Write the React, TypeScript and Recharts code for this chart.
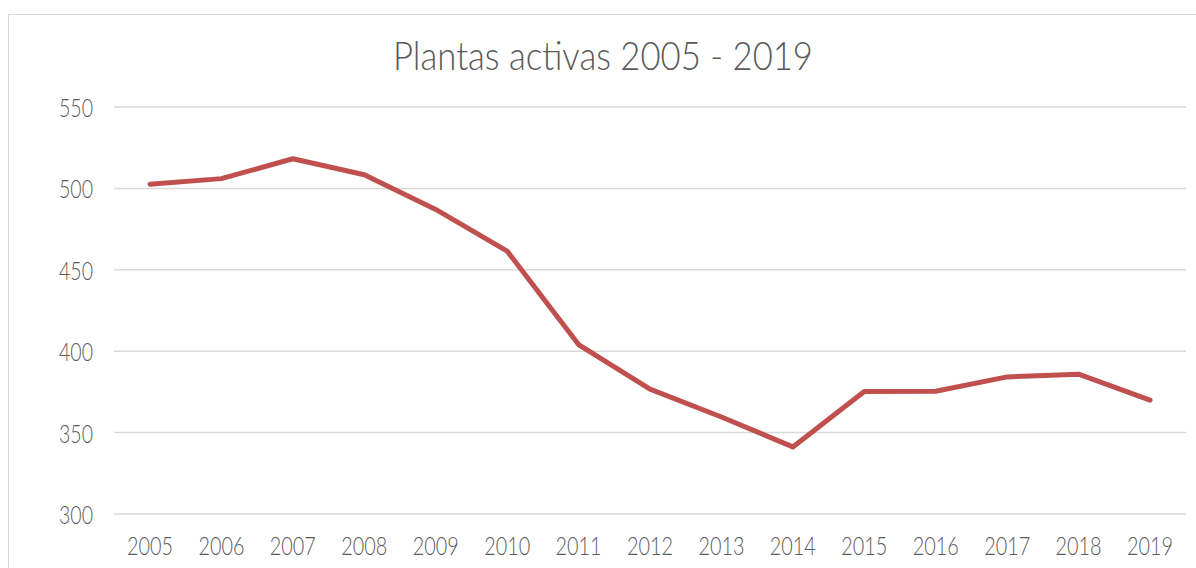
import { LineChart, Line, XAxis, YAxis, CartesianGrid } from 'recharts'

const YEARS = ['2005', '2006', '2007', '2008', '2009', '2010', '2011', '2012', '2013', '2014', '2015', '2016', '2017', '2018', '2019']
const PLANTAS = [502.6, 506, 518.2, 508.4, 487.1, 461.5, 404.1, 376.7, 359.6, 341.2, 375.2, 375.4, 384.2, 385.9, 369.9]
const Y_TICKS = [300, 350, 400, 450, 500, 550]
const TITLE = 'Plantas activas 2005 - 2019'

const TEXT = '#595959'
const FONT = 'Lato, "Open Sans", sans-serif'

const data = YEARS.map((y, i) => ({ year: y, plantas: PLANTAS[i] }))

const YTick = ({ x, y, payload }: any) => (
  <text x={x} y={y} textAnchor="end" dominantBaseline="central" fill={TEXT} fontFamily={FONT} fontWeight={300} fontSize={25}
    textLength={34} lengthAdjust="spacingAndGlyphs">
    {payload.value}
  </text>
)

const XTick = ({ x, y, payload }: any) => (
  <text x={x} y={y} dy="0.72em" textAnchor="middle" fill={TEXT} fontFamily={FONT} fontWeight={300} fontSize={25}
    textLength={46} lengthAdjust="spacingAndGlyphs">
    {payload.value}
  </text>
)

export default function App() {
  return (
    <div style={{ position: 'absolute', left: 0, top: 0, width: 1196, height: 568, overflow: 'hidden', background: '#fff' }}>
      <div style={{ position: 'absolute', left: 8, top: 14, width: 1300, height: 700, border: '1.5px solid #d9d9d9' }} />
      <svg style={{ position: 'absolute', left: 0, top: 0 }} width={1196} height={120}>
        <text x={603} y={70} textAnchor="middle" fill={TEXT} fontFamily={FONT} fontWeight={300} fontSize={39}
          textLength={420} lengthAdjust="spacingAndGlyphs">
          {TITLE}
        </text>
      </svg>
      <div style={{ position: 'absolute', left: 0, top: 0 }}>
        <LineChart width={1196} height={568} data={data} margin={{ top: 107, right: 10, bottom: 0, left: 0 }}>
          <CartesianGrid horizontal vertical={false} stroke="#d9d9d9" strokeWidth={1.5} />
          <XAxis dataKey="year" axisLine={false} tickLine={false} tickSize={0} tickMargin={23} height={54}
            padding={{ left: 36, right: 36 }} tick={<XTick />} interval={0} />
          <YAxis domain={[300, 550]} ticks={Y_TICKS} axisLine={false} tickLine={false} tickSize={0} tickMargin={21}
            width={114} tick={<YTick />} />
          <Line type="linear" dataKey="plantas" stroke="#c0504d" strokeWidth={5} strokeLinecap="round" strokeLinejoin="round"
            dot={false} activeDot={false} isAnimationActive={false} />
        </LineChart>
      </div>
    </div>
  )
}
